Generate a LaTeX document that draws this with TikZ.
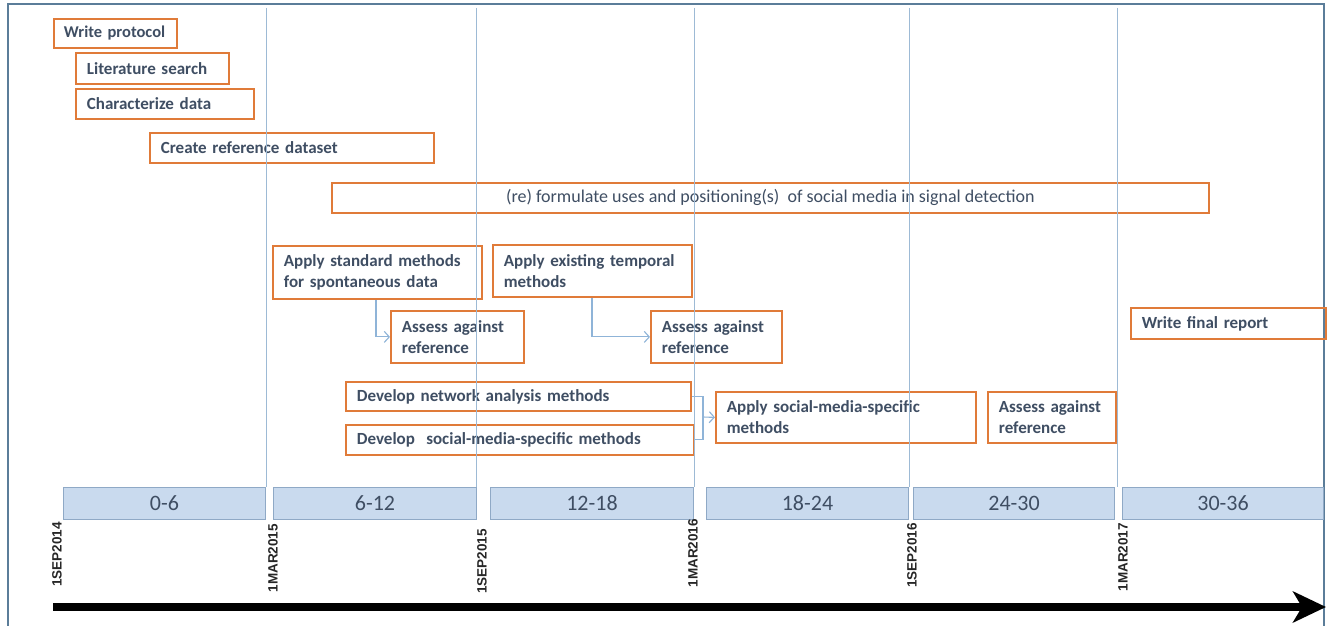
\documentclass[tikz,border=0pt]{standalone}
\usepackage{fontspec}
\setmainfont{Carlito}
\newfontfamily\datefont{Liberation Sans}
\usetikzlibrary{arrows.meta}
\definecolor{org}{HTML}{E07B39}
\definecolor{txt}{HTML}{3F4E63}
\definecolor{vl}{HTML}{9DBAD5}
\definecolor{tlf}{HTML}{C9DAEE}
\definecolor{tlb}{HTML}{8FA9C6}
\definecolor{frm}{HTML}{5B7D99}
\definecolor{cn}{HTML}{8FB4D8}
\begin{document}
\begin{tikzpicture}[x=1pt,y=-1pt,
  box/.style={draw=org, line width=1.8pt, font=\bfseries\fontsize{17}{21}\selectfont, text=txt,
    align=left, inner xsep=11pt, inner ysep=2pt, anchor=north west},
  wide/.style={draw=org, line width=1.8pt, font=\fontsize{18}{20}\selectfont, text=txt,
    align=center, inner sep=0pt, anchor=north west},
  tl/.style={draw=tlb, fill=tlf, line width=1pt, minimum height=32pt, anchor=north west,
    font=\fontsize{22}{22}\selectfont, text=txt, inner sep=0pt},
  date/.style={font=\datefont\bfseries\fontsize{13.5}{13.5}\selectfont, text=black!85, rotate=90,
    anchor=east, inner sep=0pt},
  vline/.style={draw=vl, line width=0.9pt},
  conn/.style={draw=cn, line width=1.1pt},
  conna/.style={conn, -{Straight Barb[length=5pt,width=11pt]}},
  frame/.style={draw=frm, line width=1.8pt},
  timearrow/.style={line width=8pt, -{Stealth[length=33pt,width=31pt,inset=9pt]}}
]
\useasboundingbox (0,0) rectangle (1327,626);
\fill[white] (0,0) rectangle (1327,626);
% frame
\coordinate (f1) at (8,626); \coordinate (f2) at (8,4);
\coordinate (f3) at (1324,4); \coordinate (f4) at (1324,626);
\draw[frame] (f1) -- (f2) -- (f3) -- (f4);

% task boxes
\node[box, font=\bfseries\fontsize{16.5}{21}\selectfont, inner xsep=10pt, text width=103pt, minimum height=29pt] (wp) at (53,18) {Write\ protocol};
\node[box, text width=131pt, minimum height=31pt] (ls) at (75,52) {Literature search};
\node[box, text width=156pt, minimum height=30pt] (cd) at (75,88) {Characterize data};
\node[box, text width=262pt, minimum height=30pt] (crd) at (149,132) {Create reference dataset};
\node[wide, minimum width=877pt, minimum height=30pt] (rf) at (331,182) {(re) formulate uses and positioning(s)~ of social media in signal detection};
\node[box, text width=187pt, minimum height=53pt] (asm) at (272,245) {Apply standard methods\\for spontaneous data};
\node[box, text width=177pt, minimum height=52pt] (aet) at (492,244) {Apply existing temporal\\methods};
\node[box, text width=111pt, minimum height=52pt] (as1) at (390,310) {Assess against\\reference};
\node[box, text width=109pt, minimum height=52pt] (as2) at (650,310) {Assess against\\reference};
\node[box, text width=323pt, minimum height=29pt] (dna) at (345,381) {Develop network analysis methods};
\node[box, text width=326pt, minimum height=30pt] (dsm) at (345,424) {Develop~~social-media-specific methods};
\node[box, text width=238pt, minimum height=51pt] (asms) at (715,391) {Apply social-media-specific\\methods};
\node[box, text width=106pt, minimum height=51pt] (as3) at (987,391) {Assess against\\reference};
\node[box, text width=173pt, minimum height=31pt] (wfr) at (1130,307) {Write final report};

% connectors
\draw[conna] ([xshift=104pt]asm.south west) |- (as1.west);
\draw[conna] ([xshift=100pt]aet.south west) |- (as2.west);
\coordinate (bk) at (703,417);
\draw[conn] (dna.east) -| (bk) |- (dsm.east);
\draw[conna] (bk) -- (asms.west);

% vertical period lines
\foreach \x/\n in {266/v1,476/v2,694/v3,909/v4,1117/v5}{
  \coordinate (\n t) at (\x,8); \coordinate (\n b) at (\x,487);
  \draw[vline] (\n t) -- (\n b);
}

% timeline boxes
\node[tl, minimum width=202pt] (p1) at (63,487) {0-6};
\node[tl, minimum width=203pt] (p2) at (273,487) {6-12};
\node[tl, minimum width=203pt] (p3) at (490,487) {12-18};
\node[tl, minimum width=202pt] (p4) at (706,487) {18-24};
\node[tl, minimum width=201pt] (p5) at (913,487) {24-30};
\node[tl, minimum width=201pt] (p6) at (1122,487) {30-36};

% date labels
\node[date] (d1) at (57,522) {1SEP2014};
\node[date] (d2) at (273,524) {1MAR2015};
\node[date] (d3) at (482,529) {1SEP2015};
\node[date] (d4) at (693,519) {1MAR2016};
\node[date] (d5) at (912,523) {1SEP2016};
\node[date] (d6) at (1123,523) {1MAR2017};

% time arrow
\coordinate (a0) at (53,607); \coordinate (a1) at (1326,607);
\draw[timearrow] (a0) -- (a1);
\end{tikzpicture}
\end{document}
